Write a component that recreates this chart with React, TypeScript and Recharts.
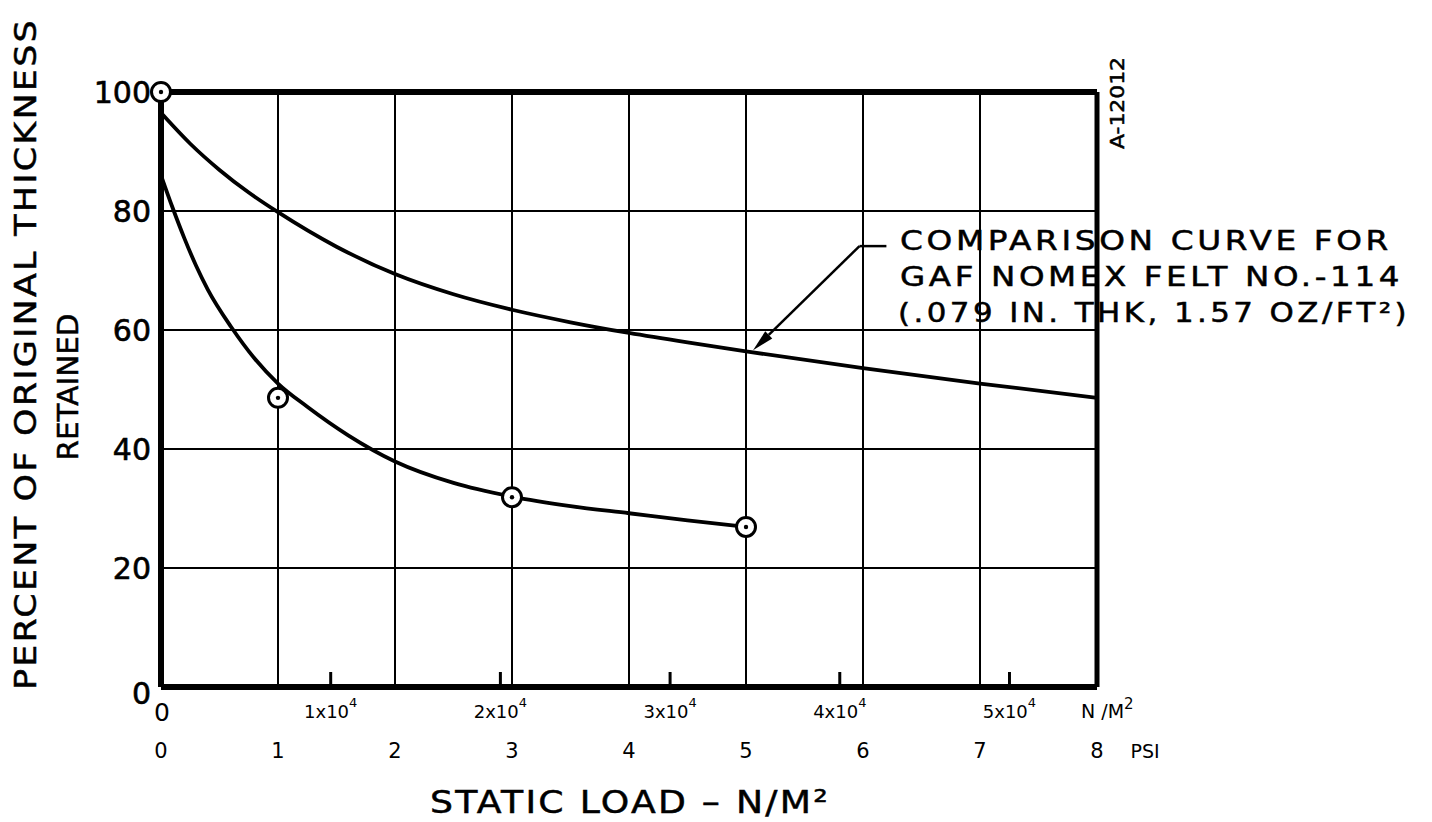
import React from "react";
import { ComposedChart, Line, Scatter, XAxis, YAxis, CartesianGrid, ReferenceLine } from "recharts";

const PA_PER_PSI = 6894.76;
const FONT = "'DejaVu Sans', sans-serif";

// axis ticks
const psiTicks = [0, 1, 2, 3, 4, 5, 6, 7, 8];
const pctTicks = [0, 20, 40, 60, 80, 100];
const nmTicks = [0, 1e4, 2e4, 3e4, 4e4, 5e4];
const nmMantissa = ["0", "1", "2", "3", "4", "5"];

// measured points (felt sample)
const measuredPsi = [0, 1, 3, 5];
const measuredPct = [100, 48.6, 31.9, 26.9];

// faired curve through the sample
const sampleCurvePsi = [0, 0.1, 0.2, 0.3, 0.4, 0.6, 0.8, 1, 1.25, 1.6, 2, 2.5, 3, 3.5, 4, 4.5, 5];
const sampleCurvePct = [86, 80.5, 75.4, 70.8, 66.8, 60.5, 55.2, 51, 47.1, 42.3, 37.9, 34.3, 32, 30.4, 29.2, 28, 26.9];

// comparison curve, GAF Nomex felt No.-114
const nomexCurvePsi = [0, 0.25, 0.5, 0.75, 1, 1.5, 2, 2.5, 3, 3.5, 4, 4.5, 5, 6, 7, 8];
const nomexCurvePct = [96.5, 91.3, 86.9, 83.1, 79.8, 74.0, 69.4, 66.0, 63.4, 61.3, 59.5, 57.9, 56.4, 53.6, 51.0, 48.6];

const toRows = (xs: number[], ys: number[]) => xs.map((psi, i) => ({ psi, pct: ys[i] }));
const measured = toRows(measuredPsi, measuredPct);
const sampleCurve = toRows(sampleCurvePsi, sampleCurvePct);
const nomexCurve = toRows(nomexCurvePsi, nomexCurvePct);

const nmTickPsi = [...nmTicks.map((v) => v / PA_PER_PSI), 8];

function PctTick({ x, y, payload }: any) {
  return (
    <text x={x} y={y + (payload.value === 0 ? 6 : 0)} textAnchor="end" dominantBaseline="central"
      fontSize={30} fontFamily={FONT} fill="#000" stroke="#000" strokeWidth={0.6}>
      {payload.value}
    </text>
  );
}

function NmTick({ x, y, payload, index }: any) {
  if (payload.value >= 8) {
    return (
      <text x={x - 16} y={y + 31} fontSize={19} fontFamily={FONT} fill="#000">
        N /M<tspan dy={-9} fontSize={15}>2</tspan>
      </text>
    );
  }
  if (index === 0) {
    return (
      <text x={x + 1} y={y + 34} textAnchor="middle" fontSize={25} fontFamily={FONT} fill="#000">0</text>
    );
  }
  return (
    <g>
      <line x1={x} x2={x} y1={y - 3} y2={y - 15} stroke="#000" strokeWidth={3} />
      <text x={x} y={y + 31} textAnchor="middle" fontSize={18} fontFamily={FONT} fill="#000">
        {nmMantissa[index]}x10<tspan dy={-11} fontSize={13}>4</tspan>
      </text>
    </g>
  );
}

function PsiTick({ x, y, payload }: any) {
  return (
    <g>
      <text x={x} y={y + 31} textAnchor="middle" fontSize={21} fontFamily={FONT} fill="#000">
        {payload.value}
      </text>
      {payload.value === 8 && (
        <text x={x + 48} y={y + 31} textAnchor="middle" fontSize={19} fontFamily={FONT} fill="#000">PSI</text>
      )}
    </g>
  );
}

function Ring({ cx, cy }: any) {
  return (
    <g>
      <circle cx={cx} cy={cy} r={9.5} fill="#fff" stroke="#000" strokeWidth={3} />
      <circle cx={cx} cy={cy} r={2.2} fill="#000" />
    </g>
  );
}

function Leader({ x1, y1, x2, y2 }: any) {
  const ang = Math.atan2(y2 - y1, x2 - x1);
  const len = 22;
  const w = 5;
  const bx = x2 - Math.cos(ang) * len;
  const by = y2 - Math.sin(ang) * len;
  const nx = -Math.sin(ang) * w;
  const ny = Math.cos(ang) * w;
  return (
    <g>
      <line x1={x1} y1={y1} x2={bx} y2={by} stroke="#000" strokeWidth={2.5} />
      <polygon points={`${x2},${y2} ${bx + nx},${by + ny} ${bx - nx},${by - ny}`} fill="#000" />
    </g>
  );
}

export default function App() {
  return (
    <div style={{ position: "absolute", left: 0, top: 0, width: 1432, height: 822, background: "#fff" }}>
      <ComposedChart width={1432} height={822} margin={{ top: 92, right: 335, bottom: 55, left: 81 }}>
        <CartesianGrid xAxisId="psi" yAxisId="pct" stroke="#000" strokeWidth={2} />
        <XAxis xAxisId="nm" dataKey="psi" type="number" domain={[0, 8]} allowDataOverflow ticks={nmTickPsi}
          interval={0} height={40} tickSize={0} tickMargin={0} tickLine={false}
          axisLine={{ stroke: "#000", strokeWidth: 6 }} tick={<NmTick />} />
        <XAxis xAxisId="psi" dataKey="psi" type="number" domain={[0, 8]} ticks={psiTicks}
          interval={0} height={40} tickSize={0} tickMargin={0} tickLine={false}
          axisLine={false} tick={<PsiTick />} />
        <YAxis yAxisId="pct" type="number" domain={[0, 100]} ticks={pctTicks} interval={0}
          width={80} tickSize={0} tickMargin={10} tickLine={false}
          axisLine={{ stroke: "#000", strokeWidth: 6 }} tick={<PctTick />} />
        <ReferenceLine xAxisId="psi" yAxisId="pct" y={100} stroke="#000" strokeWidth={6} />
        <ReferenceLine xAxisId="psi" yAxisId="pct" x={8} stroke="#000" strokeWidth={5} />
        {/* carries the N/m² scale, same span as the psi scale */}
        <Line xAxisId="nm" yAxisId="pct" data={nomexCurve} dataKey="pct" stroke="transparent"
          strokeWidth={0} dot={false} activeDot={false} legendType="none" isAnimationActive={false} />
        <Line xAxisId="psi" yAxisId="pct" data={nomexCurve} dataKey="pct" type="monotone"
          stroke="#000" strokeWidth={3.8} dot={false} isAnimationActive={false} />
        <Line xAxisId="psi" yAxisId="pct" data={sampleCurve} dataKey="pct" type="monotone"
          stroke="#000" strokeWidth={3.8} dot={false} isAnimationActive={false} />
        <ReferenceLine xAxisId="psi" yAxisId="pct" segment={[{ x: 5.97, y: 74.1 }, { x: 6.2, y: 74.1 }]}
          stroke="#000" strokeWidth={2.5} />
        <ReferenceLine xAxisId="psi" yAxisId="pct" segment={[{ x: 5.97, y: 74.1 }, { x: 5.06, y: 56.6 }]}
          shape={<Leader />} />
        <Scatter xAxisId="psi" yAxisId="pct" data={measured} dataKey="pct" shape={<Ring />}
          isAnimationActive={false} />
      </ComposedChart>

      <svg width={1432} height={822} style={{ position: "absolute", left: 0, top: 0, pointerEvents: "none" }}>
        <g fontFamily={FONT} fill="#000" stroke="#000" strokeWidth={0.5}>
          <text transform="translate(25,354) rotate(-90)" textAnchor="middle" dominantBaseline="central"
            fontSize={31} textLength={672} lengthAdjust="spacingAndGlyphs" letterSpacing={2}>PERCENT OF ORIGINAL THICKNESS</text>
          <text transform="translate(68,387) rotate(-90)" textAnchor="middle" dominantBaseline="central"
            fontSize={29} textLength={147} lengthAdjust="spacingAndGlyphs">RETAINED</text>
          <text x={630} y={813} textAnchor="middle" fontSize={32} textLength={400}
            lengthAdjust="spacingAndGlyphs" letterSpacing={2}>STATIC LOAD – N/M²</text>
          <text transform="translate(1117,103) rotate(-90)" textAnchor="middle" dominantBaseline="central"
            fontSize={20} textLength={92} lengthAdjust="spacingAndGlyphs">A-12012</text>
          <g fontSize={27} letterSpacing={3}>
            <text x={900} y={250} textLength={492} lengthAdjust="spacingAndGlyphs">COMPARISON CURVE FOR</text>
            <text x={900} y={286} textLength={503} lengthAdjust="spacingAndGlyphs">GAF NOMEX FELT NO.-114</text>
            <text x={898} y={322} textLength={512} lengthAdjust="spacingAndGlyphs">(.079 IN. THK, 1.57 OZ/FT²)</text>
          </g>
        </g>
      </svg>
    </div>
  );
}
